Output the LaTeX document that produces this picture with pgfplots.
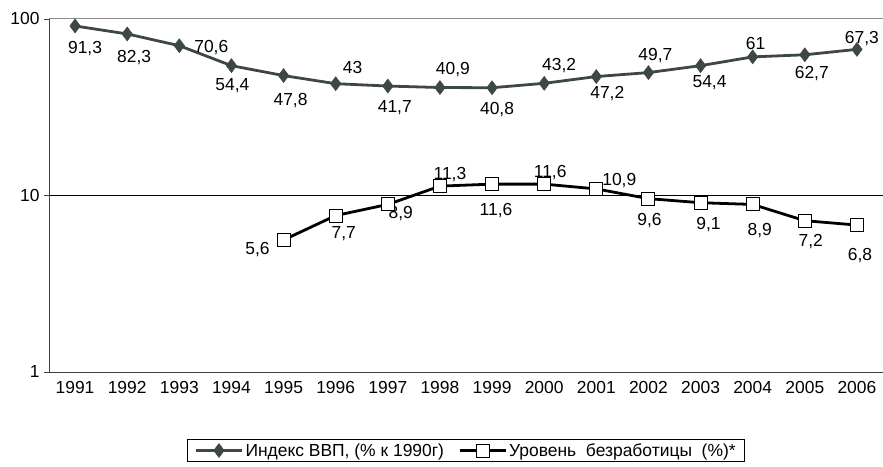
\documentclass[border=0pt]{standalone}
\usepackage{fontspec}
\setmainfont{Liberation Sans}
\usepackage{pgfplots}
\pgfplotsset{compat=1.18}
\definecolor{gdp}{HTML}{3D4743}
\newcommand{\fs}{\fontsize{17.5}{19}\selectfont}
\newcommand{\lbl}[5]{\node[font=\fs, inner sep=0pt] at (axis cs:#1,#2) [xshift=#3bp, yshift=#4bp] {#5};}
\begin{document}
\begin{tikzpicture}
\begin{axis}[
  scale only axis, width=834bp, height=353bp,
  ymode=log, ymin=1, ymax=100,
  xmin=0.5, xmax=16.5,
  axis x line=bottom, axis y line=left,
  axis line style={black!75, line width=0.8pt, -},
  xtick={1,...,16},
  xticklabels={1991,1992,1993,1994,1995,1996,1997,1998,1999,2000,2001,2002,2003,2004,2005,2006},
  major x tick style={draw=none},
  extra x ticks={0.5,1.5,...,16.5},
  extra x tick labels={},
  extra x tick style={tick style={draw=black!75, line width=0.8pt}, major tick length=5bp},
  ytick={1,10,100}, yticklabels={1,10,100},
  tick align=outside,
  major tick length=5bp,
  ytick style={draw=black!75, line width=0.8pt},
  minor ytick={},
  yminorticks=false,
  ticklabel style={font=\fs},
  /pgf/number format/assume math mode=true,
  xticklabel style={yshift=-1bp},
  yticklabel style={xshift=-1bp},
  clip=false,
  legend columns=2,
  legend style={at={(0.5,-0.19)}, anchor=north, draw=black, line width=0.6pt,
    font=\fs, inner ysep=2bp, inner xsep=7bp,
    /tikz/every even column/.append style={column sep=12bp}},
  legend image code/.code={\draw[mark repeat=2,mark phase=2, line width=3.2pt] plot coordinates {(0bp,0bp)(23bp,0bp)(46bp,0bp)};},
]
\draw[black, line width=0.6pt] (axis cs:0.5,10) -- (axis cs:16.5,10);
\draw[black!45, line width=1pt] (axis cs:0.5,100) -- (axis cs:16.5,100);
\addplot[gdp, line width=2.8pt, mark=diamond*, mark size=7bp, mark options={fill=gdp, draw=gdp, line width=0.5pt}]
  coordinates {(1,91.3)(2,82.3)(3,70.6)(4,54.4)(5,47.8)(6,43)(7,41.7)(8,40.9)(9,40.8)(10,43.2)(11,47.2)(12,49.7)(13,54.4)(14,61)(15,62.7)(16,67.3)};
\addlegendentry{Индекс ВВП, (\% к 1990г)}
\addplot[black, line width=2.8pt, mark=square*, mark size=6.5bp, mark options={fill=white, draw=black, line width=1pt}]
  coordinates {(5,5.6)(6,7.7)(7,8.9)(8,11.3)(9,11.6)(10,11.6)(11,10.9)(12,9.6)(13,9.1)(14,8.9)(15,7.2)(16,6.8)};
\addlegendentry{Уровень\ \ безработицы\ \ (\%)*}
\lbl{1}{91.3}{10}{-23}{91,3}
\lbl{2}{82.3}{7}{-24}{82,3}
\lbl{3}{70.6}{32}{-2}{70,6}
\lbl{4}{54.4}{1}{-20}{54,4}
\lbl{5}{47.8}{7}{-25}{47,8}
\lbl{6}{43}{17}{16}{43}
\lbl{7}{41.7}{7}{-22}{41,7}
\lbl{8}{40.9}{13}{18}{40,9}
\lbl{9}{40.8}{5}{-22}{40,8}
\lbl{10}{43.2}{15}{18}{43,2}
\lbl{11}{47.2}{11}{-17}{47,2}
\lbl{12}{49.7}{7}{17}{49,7}
\lbl{13}{54.4}{9}{-17}{54,4}
\lbl{14}{61}{3}{13}{61}
\lbl{15}{62.7}{7}{-19}{62,7}
\lbl{16}{67.3}{5}{11}{67,3}
\lbl{5}{5.6}{-26}{-10}{5,6}
\lbl{6}{7.7}{8}{-18}{7,7}
\lbl{7}{8.9}{13}{-9}{8,9}
\lbl{8}{11.3}{10}{12}{11,3}
\lbl{9}{11.6}{4}{-26}{11,6}
\lbl{10}{11.6}{6}{12}{11,6}
\lbl{11}{10.9}{23}{8}{10,9}
\lbl{12}{9.6}{1}{-22}{9,6}
\lbl{13}{9.1}{8}{-22}{9,1}
\lbl{14}{8.9}{7}{-26}{8,9}
\lbl{15}{7.2}{6}{-21}{7,2}
\lbl{16}{6.8}{3}{-30}{6,8}
\end{axis}
\pgfresetboundingbox
\path[use as bounding box] (current axis.south west) ++(-49bp,-95bp) rectangle ++(883bp,467bp);
\end{tikzpicture}
\end{document}
